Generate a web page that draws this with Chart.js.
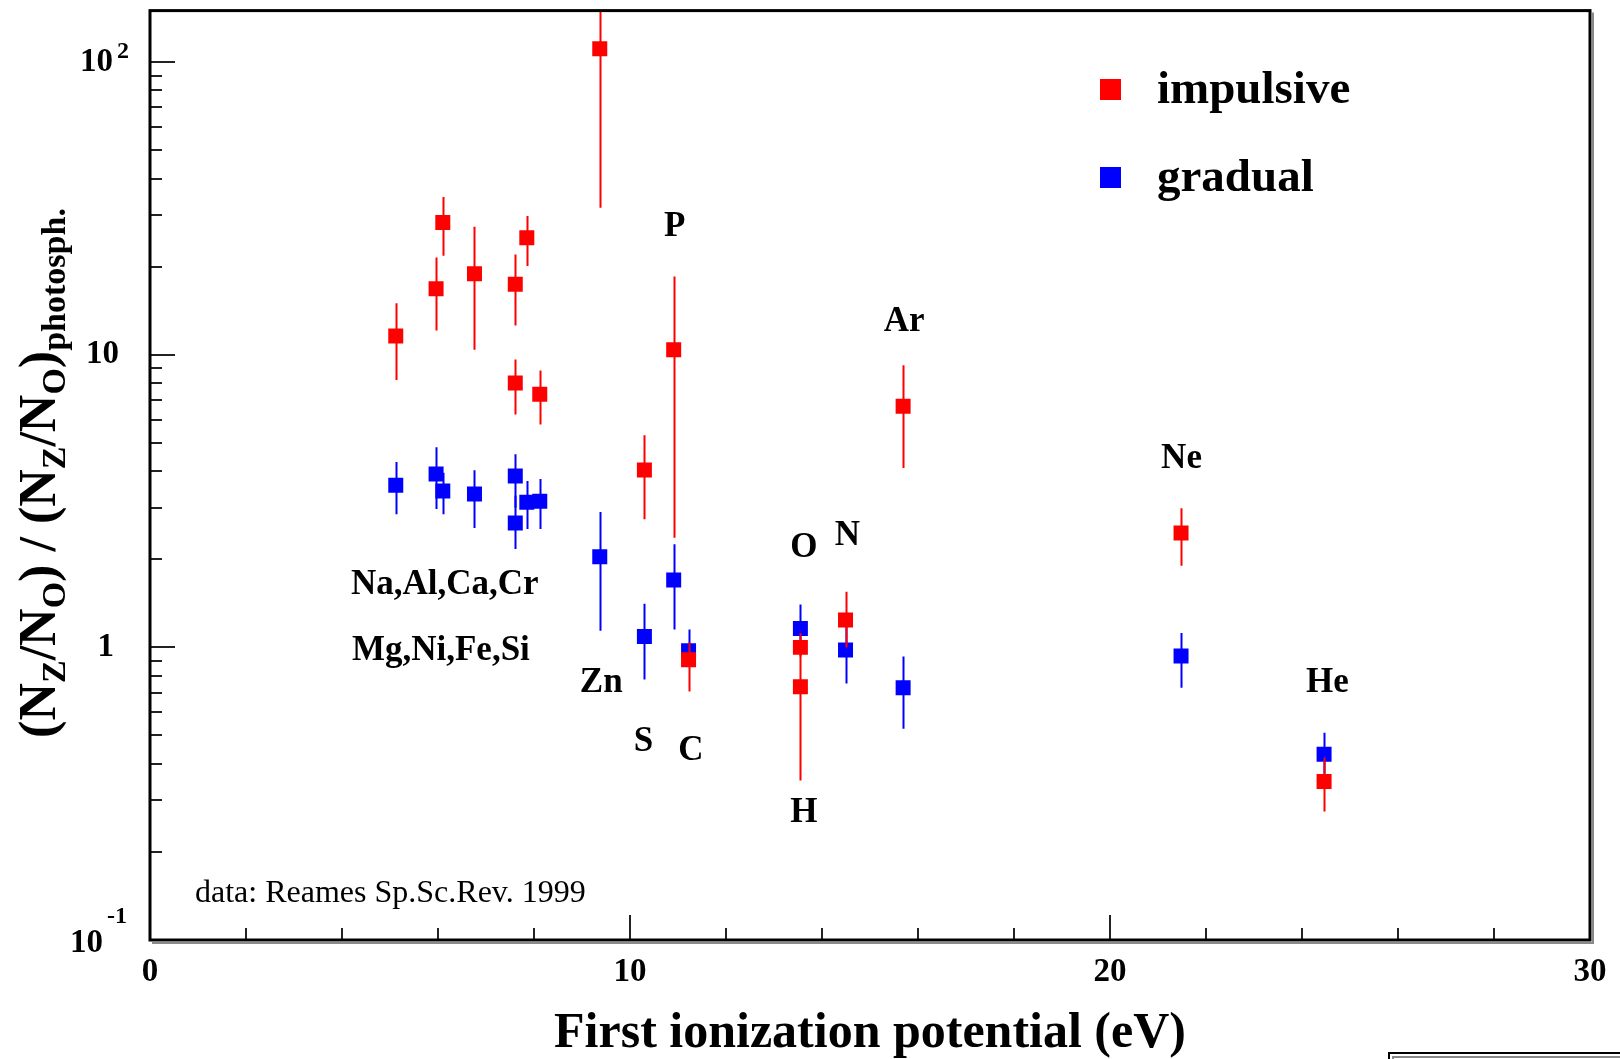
<!DOCTYPE html>
<html>
<head>
<meta charset="utf-8">
<title>FIP effect: impulsive vs gradual</title>
<script src="https://cdn.jsdelivr.net/npm/chart.js@4.4.1/dist/chart.umd.min.js"></script>
<style>
  html, body { margin: 0; padding: 0; background: #ffffff; }
  #wrap { width: 1620px; height: 1059px; }
</style>
</head>
<body>
<div id="wrap"><canvas id="fipChart" width="1620" height="1059"></canvas></div>
<script>
// impulsive events (red)
const impFip   = [5.12, 5.96, 6.10, 6.76, 7.61, 7.61, 7.85, 8.12, 9.37, 10.30, 10.91, 11.22, 13.55, 13.55, 14.49, 15.69, 21.48, 24.46];
const impRatio = [11.6, 16.8, 28.3, 18.9, 17.4, 8.0, 25.1, 7.33, 111, 4.04, 10.4, 0.908, 1.0, 0.734, 1.24, 6.67, 2.46, 0.348];
const impLow   = [8.2, 12.1, 21.8, 10.4, 12.6, 6.25, 20.1, 5.78, 31.8, 2.74, 2.37, 0.706, 0.93, 0.351, 1.0, 4.1, 1.90, 0.275];
const impHigh  = [15.0, 21.5, 34.6, 27.4, 22.0, 9.64, 29.8, 8.84, 200, 5.31, 18.5, 1.04, 1.12, 0.95, 1.55, 9.2, 2.99, 0.42];

// gradual events (blue)
const gradFip   = [5.12, 5.96, 6.10, 6.76, 7.61, 7.61, 7.85, 8.12, 9.37, 10.30, 10.91, 11.22, 13.55, 14.49, 15.69, 21.48, 24.46];
const gradRatio = [3.58, 3.91, 3.42, 3.34, 3.85, 2.66, 3.13, 3.16, 2.04, 1.09, 1.70, 0.973, 1.16, 0.98, 0.728, 0.935, 0.431];
const gradLow   = [2.85, 2.97, 2.85, 2.56, 3.0, 2.17, 2.54, 2.54, 1.14, 0.776, 1.15, 0.9, 0.95, 0.752, 0.527, 0.728, 0.37];
const gradHigh  = [4.30, 4.83, 3.95, 4.03, 4.57, 3.3, 3.70, 3.76, 2.90, 1.41, 2.25, 1.15, 1.40, 1.2, 0.93, 1.12, 0.511];

// element names, placed in data coordinates
const elementLabels = ["Na,Al,Ca,Cr", "Mg,Ni,Fe,Si", "Zn", "P", "S", "C", "O", "N", "H", "Ar", "Ne", "He"];
const labelFip      = [6.14, 6.06, 9.40, 10.93, 10.28, 11.27, 13.62, 14.53, 13.62, 15.71, 21.49, 24.53];
const labelRatio    = [1.63, 0.975, 0.758, 27.3, 0.474, 0.441, 2.18, 2.40, 0.271, 12.97, 4.41, 0.758];

const xTicks = [0, 10, 20, 30];
const yTicks = [0.1, 1, 10, 100];
const yTickBase = ["10", "1", "10", "10"];
const yTickExp  = ["-1", "", "", "2"];

const legendNames = ["impulsive", "gradual"];
const seriesColors = ["#ff0000", "#0000ff"];
const sourceNote = "data: Reames Sp.Sc.Rev. 1999";

const SERIF = '"Liberation Serif", "Times New Roman", serif';

function toPoints(xs, ys) {
  return xs.map((x, i) => ({ x: x, y: ys[i] }));
}

const errorSets = [
  { low: impLow, high: impHigh, xs: impFip },
  { low: gradLow, high: gradHigh, xs: gradFip }
];

const errorBarPlugin = {
  id: "errorBars",
  beforeDatasetDraw(chart, args) {
    const set = errorSets[args.index];
    if (!set) return;
    const ctx = chart.ctx;
    const xs = chart.scales.x, ys = chart.scales.y;
    const area = chart.chartArea;
    ctx.save();
    ctx.beginPath();
    ctx.rect(area.left, area.top, area.right - area.left, area.bottom - area.top);
    ctx.clip();
    ctx.strokeStyle = seriesColors[args.index];
    ctx.lineWidth = 2;
    set.xs.forEach((x, i) => {
      const px = Math.round(xs.getPixelForValue(x)) + 0.5;
      ctx.beginPath();
      ctx.moveTo(px, ys.getPixelForValue(set.low[i]));
      ctx.lineTo(px, ys.getPixelForValue(set.high[i]));
      ctx.stroke();
    });
    ctx.restore();
  }
};

function drawSegments(ctx, segs, startX, baseY) {
  let cx = startX;
  segs.forEach(s => {
    ctx.font = s.font;
    ctx.fillText(s.t, cx, baseY + s.dy);
    cx += ctx.measureText(s.t).width;
  });
}

function segWidth(ctx, segs) {
  let w = 0;
  segs.forEach(s => { ctx.font = s.font; w += ctx.measureText(s.t).width; });
  return w;
}

const framePlugin = {
  id: "rootFrame",
  afterDraw(chart) {
    const ctx = chart.ctx;
    const a = chart.chartArea;
    const xs = chart.scales.x, ys = chart.scales.y;
    ctx.save();

    // tick marks, pointing into the frame
    ctx.strokeStyle = "#222";
    ctx.lineWidth = 2;
    for (let v = 0; v <= 30; v += 2) {
      const px = Math.round(xs.getPixelForValue(v));
      const len = v % 10 === 0 ? 25 : 12;
      ctx.beginPath();
      ctx.moveTo(px, a.bottom);
      ctx.lineTo(px, a.bottom - len);
      ctx.stroke();
    }
    yTicks.forEach(d => {
      for (let k = 1; k <= 9; k++) {
        const v = d * k;
        if (v > ys.max) break;
        const py = Math.round(ys.getPixelForValue(v));
        ctx.beginPath();
        ctx.moveTo(a.left, py);
        ctx.lineTo(a.left + (k === 1 ? 25 : 12), py);
        ctx.stroke();
      }
    });

    // frame with a light shadow on the right and bottom
    ctx.strokeStyle = "#8a8a8a";
    ctx.lineWidth = 2;
    ctx.beginPath();
    ctx.moveTo(a.right + 3, a.top + 2);
    ctx.lineTo(a.right + 3, a.bottom + 3);
    ctx.lineTo(a.left + 2, a.bottom + 3);
    ctx.stroke();
    ctx.strokeStyle = "#000";
    ctx.lineWidth = 3;
    ctx.strokeRect(a.left, a.top, a.right - a.left, a.bottom - a.top);

    ctx.fillStyle = "#000";

    // x tick labels
    ctx.font = "bold 33px " + SERIF;
    ctx.textAlign = "center";
    ctx.textBaseline = "middle";
    xTicks.forEach(v => {
      ctx.fillText(String(v), xs.getPixelForValue(v), 972);
    });

    // y tick labels with exponents
    yTicks.forEach((v, i) => {
      const py = ys.getPixelForValue(v);
      ctx.textBaseline = "middle";
      if (yTickExp[i]) {
        const up = v < 1;
        const ex = up ? 107 : 117;
        ctx.font = "bold 24px " + SERIF;
        ctx.textAlign = "left";
        ctx.fillText(yTickExp[i], ex, py - (up ? 23 : 10));
        ctx.font = "bold 33px " + SERIF;
        ctx.textAlign = "right";
        ctx.fillText(yTickBase[i], ex - 4, py + (up ? 3 : 0));
      } else {
        ctx.font = "bold 33px " + SERIF;
        ctx.textAlign = "right";
        ctx.fillText(yTickBase[i], v === 1 ? 114 : 119, py);
      }
    });

    // x axis title
    ctx.font = "bold 50px " + SERIF;
    ctx.textAlign = "center";
    ctx.textBaseline = "middle";
    ctx.fillText("First ionization potential (eV)", (a.left + a.right) / 2, 1034);

    // y axis title, rotated, with subscripts
    const main = "bold 52px " + SERIF;
    const sub = "bold 34px " + SERIF;
    const segs = [
      { t: "(N", font: main, dy: 0 },
      { t: "Z", font: sub, dy: 10 },
      { t: "/N", font: main, dy: 0 },
      { t: "O", font: sub, dy: 10 },
      { t: ") / (N", font: main, dy: 0 },
      { t: "Z", font: sub, dy: 10 },
      { t: "/N", font: main, dy: 0 },
      { t: "O", font: sub, dy: 10 },
      { t: ")", font: main, dy: 0 },
      { t: "photosph.", font: sub, dy: 10 }
    ];
    ctx.save();
    ctx.translate(55, 473);
    ctx.rotate(-Math.PI / 2);
    ctx.textAlign = "left";
    ctx.textBaseline = "alphabetic";
    drawSegments(ctx, segs, -segWidth(ctx, segs) / 2, 0);
    ctx.restore();

    // element labels
    ctx.font = "bold 35px " + SERIF;
    ctx.textAlign = "center";
    ctx.textBaseline = "middle";
    elementLabels.forEach((t, i) => {
      ctx.fillText(t, xs.getPixelForValue(labelFip[i]), ys.getPixelForValue(labelRatio[i]));
    });

    // source note
    ctx.font = "32px " + SERIF;
    ctx.textAlign = "left";
    ctx.fillText(sourceNote, 195, 894);

    // legend
    const legendY = [89, 177];
    legendNames.forEach((name, i) => {
      ctx.fillStyle = seriesColors[i];
      ctx.fillRect(1100, legendY[i] - 10, 21, 21);
      ctx.fillStyle = "#000";
      ctx.font = "bold 47px " + SERIF;
      ctx.textAlign = "left";
      ctx.textBaseline = "middle";
      ctx.fillText(name, 1157, legendY[i] + 2);
    });

    // box peeking in at the bottom right corner
    ctx.strokeStyle = "#000";
    ctx.lineWidth = 2;
    ctx.strokeRect(1389, 1053, 260, 30);
    ctx.strokeStyle = "#888";
    ctx.strokeRect(1393, 1057, 250, 30);

    ctx.restore();
  }
};

const chart = new Chart(document.getElementById("fipChart"), {
  type: "scatter",
  data: {
    datasets: [
      {
        label: legendNames[0],
        data: toPoints(impFip, impRatio),
        backgroundColor: seriesColors[0],
        borderWidth: 0,
        pointStyle: "rect",
        pointRadius: 10.6,
        pointHoverRadius: 10.6
      },
      {
        label: legendNames[1],
        data: toPoints(gradFip, gradRatio),
        backgroundColor: seriesColors[1],
        borderWidth: 0,
        pointStyle: "rect",
        pointRadius: 10.6,
        pointHoverRadius: 10.6
      }
    ]
  },
  options: {
    responsive: false,
    animation: false,
    devicePixelRatio: 1,
    layout: { padding: { left: 150, top: 8, right: 30, bottom: 119 } },
    plugins: {
      legend: { display: false },
      tooltip: { enabled: false }
    },
    scales: {
      x: { type: "linear", min: 0, max: 30, display: false },
      y: { type: "logarithmic", min: 0.1, max: 150, display: false }
    }
  },
  plugins: [errorBarPlugin, framePlugin]
});
</script>
</body>
</html>
